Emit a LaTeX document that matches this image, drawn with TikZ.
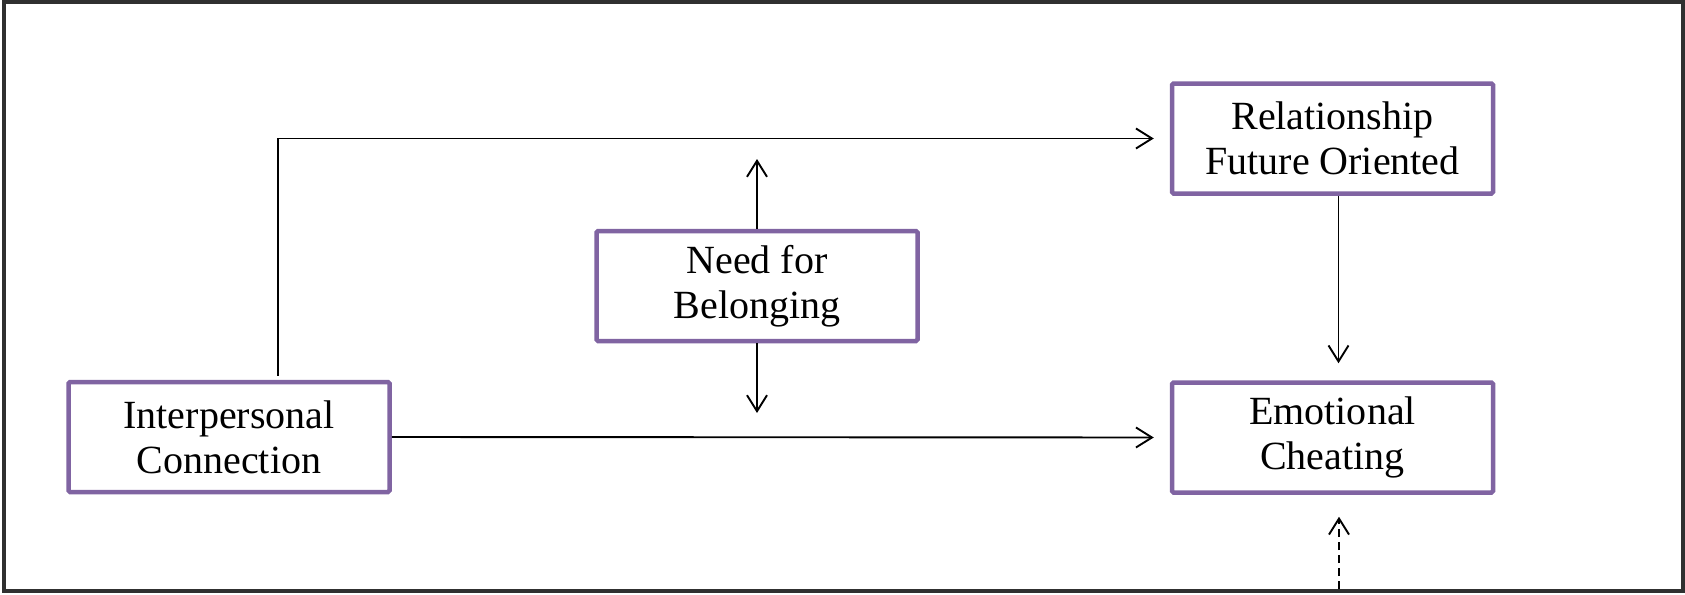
\documentclass[tikz,border=0pt]{standalone}
\usepackage{fontspec}
\setmainfont{Liberation Serif}
\usetikzlibrary{arrows.meta}
\definecolor{boxpurple}{HTML}{8064A2}
\definecolor{framegray}{HTML}{303030}
\tikzset{
  varbox/.style={draw=boxpurple, line width=4.5pt, rounded corners=1.5pt, fill=white,
    minimum width=321pt, minimum height=110pt, align=center, inner sep=0pt,
    font=\fontsize{40pt}{45pt}\selectfont},
  conn/.style={draw=black, line width=1.9pt, -{Straight Barb[length=16pt,width=20pt]}},
}
\begin{document}
\begin{tikzpicture}[x=1pt,y=-1pt]
\useasboundingbox (0,0) rectangle (1685,594);
\draw[framegray, line width=4.5pt] (4,2) rectangle (1683,591);

\node[varbox] (ic) at (229,437) {Interpersonal\\Connection};
\node[varbox] (nb) at (757,286) {Need for\\Belonging};
\node[varbox] (rf) at (1332.5,138.5) {Relationship\\Future Oriented};
\node[varbox] (ec) at (1332.5,437.5) {Emotional\\Cheating};

\coordinate (nbup) at (757,159);
\coordinate (nbdown) at (757,413);
\coordinate (dashstart) at (1339,589);

\draw[conn, shorten >=16pt] ([xshift=49pt,yshift=4pt]ic.north) |- (rf.west);
\draw[conn, shorten >=16pt] (ic.east) -- (ec.west);
\draw[conn] (nb.north) -- (nbup);
\draw[conn] (nb.south) -- (nbdown);
\draw[conn, shorten >=17pt] ([xshift=6pt]rf.south) -- ([xshift=6pt]ec.north);
\draw[conn, dash pattern=on 8pt off 5pt, shorten >=22pt] (dashstart) -- (dashstart |- ec.south);
\end{tikzpicture}
\end{document}
